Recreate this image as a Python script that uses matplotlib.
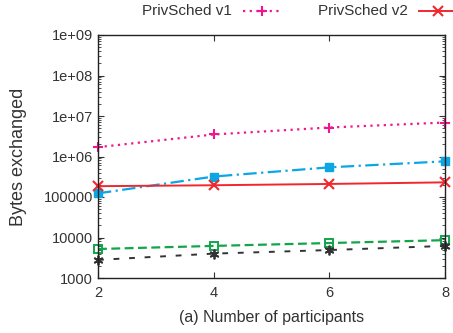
import matplotlib
matplotlib.use("Agg")
import matplotlib.pyplot as plt
from matplotlib.lines import Line2D
from matplotlib.ticker import FixedLocator, FixedFormatter, LogLocator, NullFormatter

plt.rcParams["font.family"] = ["Liberation Sans", "DejaVu Sans"]

participants = [2, 4, 6, 8]
privsched_v1 = [1.7e6, 3.5e6, 5.2e6, 6.9e6]
series_blue = [1.23e5, 3.2e5, 5.4e5, 7.6e5]
privsched_v2 = [1.85e5, 1.95e5, 2.1e5, 2.3e5]
series_green = [5.2e3, 6.2e3, 7.3e3, 8.6e3]
series_black = [2.8e3, 4.0e3, 4.9e3, 6.2e3]

y_ticks = [1e3, 1e4, 1e5, 1e6, 1e7, 1e8, 1e9]
y_labels = ["1000", "10000", "100000", "1e+06", "1e+07", "1e+08", "1e+09"]

fig = plt.figure(figsize=(4.53, 3.33), dpi=100)
ax = fig.add_axes([98 / 453, 1 - 278 / 333, 347 / 453, 243 / 333])

c_v1 = "#f0168c"
c_blue = "#0aa6e6"
c_v2 = "#f0282d"
c_green = "#12a54a"
c_black = "#333333"

ax.plot(participants, privsched_v1, color=c_v1, ls=(0, (1, 2)), lw=1.6,
        marker="+", ms=6.5, mew=1.5, clip_on=False)
ax.plot(participants, series_blue, color=c_blue, ls=(0, (6, 2, 1, 2)), lw=1.6,
        marker="s", ms=6, clip_on=False)
ax.plot(participants, privsched_v2, color=c_v2, ls="-", lw=1.4,
        marker="x", ms=6.5, mew=1.5, clip_on=False)
ax.plot(participants, series_green, color=c_green, ls=(0, (4, 2)), lw=1.6,
        marker="s", ms=6, mfc="none", mew=1.4, clip_on=False)
ax.plot(participants, series_black, color=c_black, ls=(0, (3, 5)), lw=1.4,
        marker=(6, 2, 0), ms=7, mew=1.3, clip_on=False)

ax.set_yscale("log")
ax.set_xlim(2, 8)
ax.set_ylim(1e3, 1e9)
ax.set_xticks(participants)
ax.yaxis.set_major_locator(FixedLocator(y_ticks))
ax.yaxis.set_major_formatter(FixedFormatter(y_labels))
ax.yaxis.set_minor_locator(LogLocator(base=10, subs=range(2, 10), numticks=20))
ax.yaxis.set_minor_formatter(NullFormatter())
ax.tick_params(which="both", direction="in", top=True, right=True,
               labelsize=10.5, colors="#333333", labelcolor="#333333")
ax.tick_params(which="major", length=4, width=0.8)
ax.tick_params(which="minor", length=2, width=0.6)
ax.tick_params(axis="x", pad=6)
for s in ax.spines.values():
    s.set_linewidth(1.0)
    s.set_color("#222222")

ax.set_xlabel("(a) Number of participants", fontsize=11.5, color="#333333",
              labelpad=7)
ax.set_ylabel("Bytes exchanged", fontsize=13, color="#333333", labelpad=12)

# gnuplot-style key at the top, text first then sample
ky = 1 - 11 / 333
fig.text(232 / 453, ky, "PrivSched v1", ha="right", va="center",
         fontsize=11, color="#333333")
fig.add_artist(Line2D([243 / 453, 280 / 453], [ky, ky],
                      transform=fig.transFigure, color=c_v1, ls=(0, (1, 2)),
                      lw=1.6))
fig.add_artist(Line2D([262 / 453], [ky], transform=fig.transFigure,
                      color=c_v1, marker="+", ms=6.5, mew=1.5))
fig.text(408 / 453, ky, "PrivSched v2", ha="right", va="center",
         fontsize=11, color="#333333")
fig.add_artist(Line2D([419 / 453, 460 / 453], [ky, ky],
                      transform=fig.transFigure, color=c_v2, lw=1.4))
fig.add_artist(Line2D([438 / 453], [ky], transform=fig.transFigure,
                      color=c_v2, marker="x", ms=6.5, mew=1.5))

fig.savefig("out.png", dpi=100)
